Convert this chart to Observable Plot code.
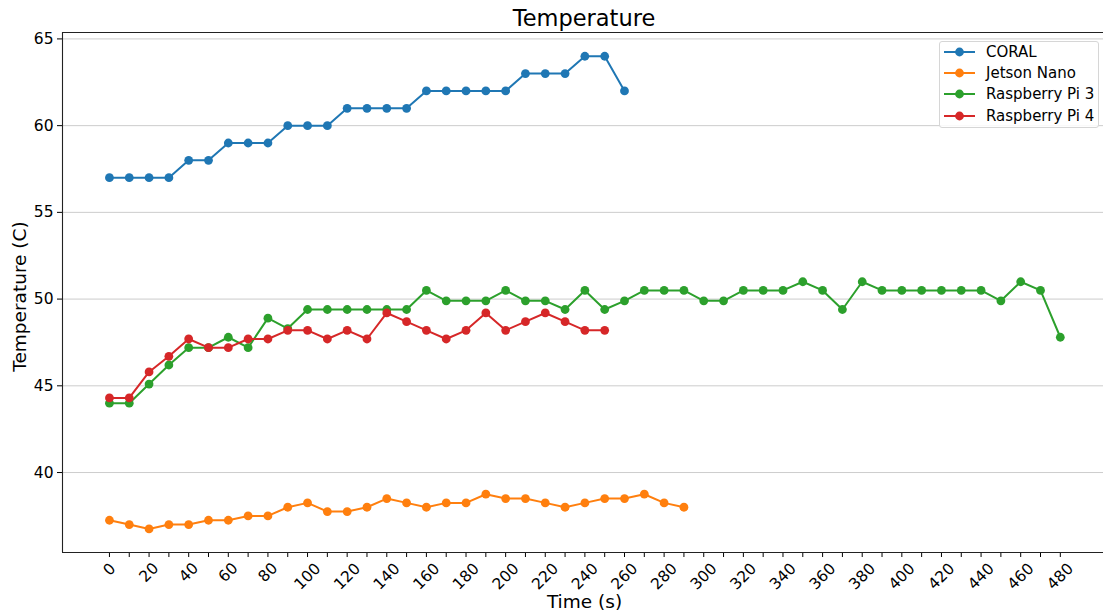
<!DOCTYPE html>
<html>
<head>
<meta charset="utf-8">
<script src="https://cdn.jsdelivr.net/npm/d3@7"></script>
<script src="https://cdn.jsdelivr.net/npm/@observablehq/plot@0.6"></script>
<style>
  html, body { margin: 0; padding: 0; background: white; }
  body { width: 1103px; height: 614px; overflow: hidden; position: relative; font-family: "DejaVu Sans", sans-serif; }
  #title { position: relative; height: 30px; }
  #title span { position: absolute; left: 584px; top: 18px; transform: translate(-50%, -50%); font-size: 22.5px; color: #000; white-space: nowrap; }
  #legend { position: absolute; left: 939px; top: 41px; width: 160px; height: 87px; border: 1px solid #d6d6d6; border-radius: 3px; background: rgba(255,255,255,0.85); box-sizing: border-box; }
  .row { position: absolute; left: 4px; height: 20px; display: flex; align-items: center; }
  .row span { font-size: 15px; margin-left: 11px; color: #000; white-space: nowrap; }
  svg { display: block; }
</style>
</head>
<body>
<div id="title"><span>Temperature</span></div>
<div id="chart"></div>
<div id="legend"></div>
<script>
// ---- data ----
const times = [0,10,20,30,40,50,60,70,80,90,100,110,120,130,140,150,160,170,180,190,200,210,220,230,240,250,260,270,280,290,300,310,320,330,340,350,360,370,380,390,400,410,420,430,440,450,460,470,480];
const seriesNames = ["CORAL", "Jetson Nano", "Raspberry Pi 3", "Raspberry Pi 4"];
const seriesColors = ["#1f77b4", "#ff7f0e", "#2ca02c", "#d62728"];
const coral = [57,57,57,57,58,58,59,59,59,60,60,60,61,61,61,61,62,62,62,62,62,63,63,63,64,64,62];
const jetson = [37.25,37.0,36.75,37.0,37.0,37.25,37.25,37.5,37.5,38.0,38.25,37.75,37.75,38.0,38.5,38.25,38.0,38.25,38.25,38.75,38.5,38.5,38.25,38.0,38.25,38.5,38.5,38.75,38.25,38.0];
const rpi3 = [44.0,44.0,45.1,46.2,47.2,47.2,47.8,47.2,48.9,48.3,49.4,49.4,49.4,49.4,49.4,49.4,50.5,49.9,49.9,49.9,50.5,49.9,49.9,49.4,50.5,49.4,49.9,50.5,50.5,50.5,49.9,49.9,50.5,50.5,50.5,51.0,50.5,49.4,51.0,50.5,50.5,50.5,50.5,50.5,50.5,49.9,51.0,50.5,47.8];
const rpi4 = [44.3,44.3,45.8,46.7,47.7,47.2,47.2,47.7,47.7,48.2,48.2,47.7,48.2,47.7,49.2,48.7,48.2,47.7,48.2,49.2,48.2,48.7,49.2,48.7,48.2,48.2];
const xTickLabels = [0,20,40,60,80,100,120,140,160,180,200,220,240,260,280,300,320,340,360,380,400,420,440,460,480];
const yTicks = [40,45,50,55,60,65];

const allValues = [coral, jetson, rpi3, rpi4];
const tables = allValues.map((vals, i) => vals.map((v, j) => ({series: seriesNames[i], t: times[j], v})));

const xDomain = [-23.7, 501.8];
const yDomain = [35.39, 65.37];

const seriesMarks = [];
tables.forEach((tbl, i) => {
  seriesMarks.push(Plot.line(tbl, {x: "t", y: "v", stroke: seriesColors[i], strokeWidth: 2}));
  seriesMarks.push(Plot.dot(tbl, {x: "t", y: "v", r: 4.4, fill: seriesColors[i], stroke: "none"}));
});

const oneDigit = xTickLabels.filter(d => String(d).length === 1);
const twoDigit = xTickLabels.filter(d => String(d).length === 2);
const threeDigit = xTickLabels.filter(d => String(d).length === 3);
const labelOpts = (dy) => ({x: d => d, text: d => String(d), frameAnchor: "bottom", dy, rotate: -45, textAnchor: "middle", lineAnchor: "middle", fontSize: 15.5, fill: "#000"});

const chart = Plot.plot({
  width: 1103,
  height: 584,
  marginLeft: 62,
  marginRight: 0,
  marginTop: 2,
  marginBottom: 62,
  style: {fontFamily: "DejaVu Sans", background: "white", color: "#000"},
  x: {domain: xDomain},
  y: {domain: yDomain},
  marks: [
    Plot.gridY(yTicks, {stroke: "#b0b0b0", strokeOpacity: 0.65, strokeWidth: 1}),
    Plot.axisY(yTicks, {tickSize: 5, tickPadding: 4, fontSize: 15.5, label: null, stroke: "#000", fill: "#000"}),
    Plot.axisX(times, {tickSize: 5, tickFormat: () => "", label: null, stroke: "#000"}),
    Plot.text(oneDigit, labelOpts(17)),
    Plot.text(twoDigit, labelOpts(20)),
    Plot.text(threeDigit, labelOpts(24)),
    Plot.text(["Temperature (C)"], {frameAnchor: "left", textAnchor: "middle", lineAnchor: "middle", dx: -42, dy: 4, rotate: -90, fontSize: 18.5, fill: "#000"}),
    Plot.text(["Time (s)"], {frameAnchor: "bottom", textAnchor: "middle", dx: 1.5, dy: 50, lineAnchor: "middle", fontSize: 18.5, fill: "#000"}),
    ...seriesMarks,
    Plot.ruleX([xDomain[0]], {stroke: "#222", strokeWidth: 1.1}),
    Plot.ruleY([yDomain[0], yDomain[1]], {stroke: "#222", strokeWidth: 1.1})
  ]
});
document.getElementById("chart").appendChild(chart);

// ---- legend ----
const legend = document.getElementById("legend");
seriesNames.forEach((name, i) => {
  const row = document.createElement("div");
  row.className = "row";
  row.style.top = (-0.3 + i * 21.3) + "px";
  row.innerHTML = `<svg width="31" height="20"><line x1="0" x2="31" y1="10" y2="10" stroke="${seriesColors[i]}" stroke-width="2"/><circle cx="15.5" cy="10" r="4.4" fill="${seriesColors[i]}"/></svg><span>${name}</span>`;
  legend.appendChild(row);
});
</script>
</body>
</html>
